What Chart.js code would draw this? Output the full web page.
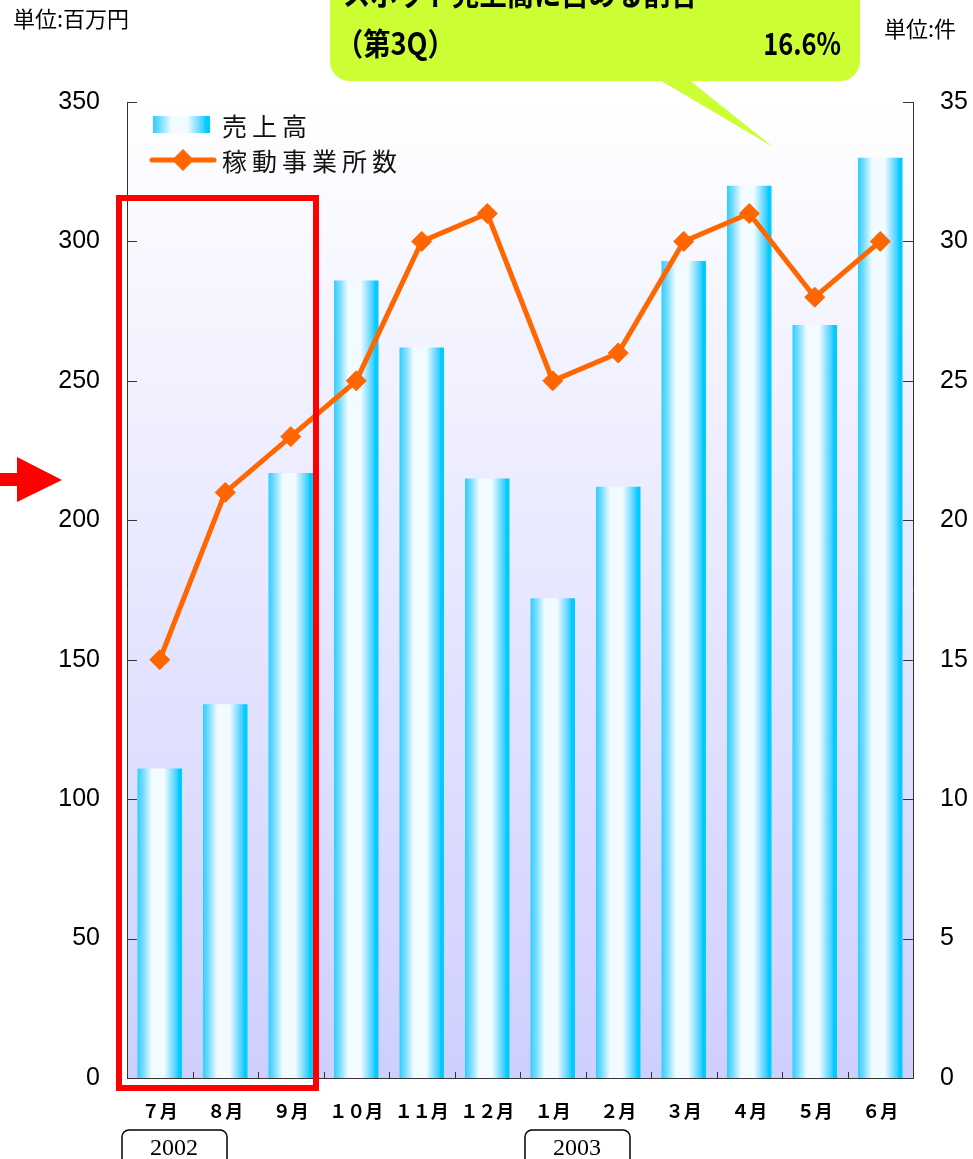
<!DOCTYPE html>
<html>
<head>
<meta charset="utf-8">
<script src="https://cdn.jsdelivr.net/npm/chart.js@4"></script>
<style>
  html, body { margin: 0; padding: 0; background: #fff; }
</style>
</head>
<body>
<canvas id="chart" width="973" height="1159"></canvas>
<script>
// Data
const months = ['７月', '８月', '９月', '１０月', '１１月', '１２月', '１月', '２月', '３月', '４月', '５月', '６月'];
const sales = [111, 134, 217, 286, 262, 215, 172, 212, 293, 320, 270, 330];   // 百万円
const offices = [15, 21, 23, 25, 30, 31, 25, 26, 30, 31, 28, 30];              // 件
const salesLabel = '売上高';
const officesLabel = '稼動事業所数';

const JP = '"Noto Sans CJK JP", sans-serif';
const NUM = '"Liberation Sans", Arial, sans-serif';
const ORANGE = '#ff6600';
const BAR_PCT = 0.68;

// horizontal cyan-white-cyan gradient used by bars and the legend swatch
const hGrad = (ctx, x0, x1) => {
  const g = ctx.createLinearGradient(x0, 0, x1, 0);
  g.addColorStop(0, '#33ccff');
  g.addColorStop(0.12, '#70dcff');
  g.addColorStop(0.32, '#f2fbff');
  g.addColorStop(0.6, '#f2fbff');
  g.addColorStop(0.9, '#33ccff');
  g.addColorStop(0.92, '#00ccff');
  g.addColorStop(1, '#00ccff');
  return g;
};

const barFill = (c) => {
  const xs = c.chart.scales.x;
  if (!xs || c.dataIndex === undefined) return '#33ccff';
  const cx = xs.getPixelForValue(c.dataIndex);
  const half = xs.width / months.length * BAR_PCT / 2;
  if (!Number.isFinite(cx) || !Number.isFinite(half) || half <= 0) return '#33ccff';
  return hGrad(c.chart.ctx, cx - half, cx + half);
};

// plot background, inward ticks, legend and the annotations
const decor = {
  id: 'decor',
  beforeDraw(chart) {
    const { ctx, chartArea: a } = chart;
    const g = ctx.createLinearGradient(0, a.top, 0, a.bottom);
    g.addColorStop(0, '#ffffff');
    g.addColorStop(1, '#cfcfff');
    ctx.save();
    ctx.fillStyle = g;
    ctx.fillRect(a.left, a.top, a.right - a.left, a.bottom - a.top);
    ctx.restore();
  },
  afterDraw(chart) {
    const { ctx, chartArea: a, scales } = chart;
    ctx.save();

    // inward ticks
    ctx.strokeStyle = '#333';
    ctx.lineWidth = 1;
    ctx.beginPath();
    scales.y.ticks.forEach(t => {
      const y = Math.round(scales.y.getPixelForValue(t.value)) + 0.5;
      ctx.moveTo(a.left, y); ctx.lineTo(a.left + 10, y);
    });
    scales.y1.ticks.forEach(t => {
      const y = Math.round(scales.y1.getPixelForValue(t.value)) + 0.5;
      ctx.moveTo(a.right, y); ctx.lineTo(a.right - 10, y);
    });
    const cw = (a.right - a.left) / months.length;
    for (let i = 1; i < months.length; i++) {
      const x = Math.round(a.left + i * cw) + 0.5;
      ctx.moveTo(x, a.bottom); ctx.lineTo(x, a.bottom - 6);
    }
    ctx.stroke();

    // legend
    ctx.fillStyle = hGrad(ctx, 153, 210);
    ctx.fillRect(153, 116, 57, 17);
    ctx.strokeStyle = ORANGE;
    ctx.lineWidth = 5;
    ctx.lineCap = 'round';
    ctx.beginPath(); ctx.moveTo(152, 160); ctx.lineTo(214, 160); ctx.stroke();
    ctx.fillStyle = ORANGE;
    ctx.beginPath();
    ctx.moveTo(172, 160); ctx.lineTo(183, 149); ctx.lineTo(194, 160); ctx.lineTo(183, 171);
    ctx.closePath(); ctx.fill();
    ctx.fillStyle = '#111';
    ctx.font = '25px ' + JP;
    ctx.textBaseline = 'middle';
    ctx.letterSpacing = '5px';
    ctx.fillText(chart.data.datasets[0].label, 222, 126);
    ctx.fillText(chart.data.datasets[1].label, 222, 161);
    ctx.letterSpacing = '0px';

    // unit labels
    ctx.font = '22px ' + JP;
    ctx.fillStyle = '#000';
    ctx.fillText('単位:百万円', 13, 19);
    ctx.fillText('単位:件', 884, 29);

    // red box around Q1
    ctx.strokeStyle = '#ff0000';
    ctx.lineWidth = 6;
    ctx.lineCap = 'butt';
    ctx.strokeRect(119, 198, 197, 890);

    // red arrow
    ctx.fillStyle = '#ff0000';
    ctx.beginPath();
    ctx.moveTo(0, 473); ctx.lineTo(17, 473); ctx.lineTo(17, 457); ctx.lineTo(62, 480);
    ctx.lineTo(17, 502); ctx.lineTo(17, 486); ctx.lineTo(0, 486);
    ctx.closePath(); ctx.fill();

    // callout
    ctx.fillStyle = '#ccff33';
    ctx.beginPath();
    ctx.roundRect(330, -40, 530, 121, 20);
    ctx.fill();
    ctx.beginPath();
    ctx.moveTo(658, 79); ctx.lineTo(688, 79); ctx.lineTo(773, 147);
    ctx.closePath(); ctx.fill();
    ctx.fillStyle = '#000';
    ctx.font = 'bold 31px ' + JP;
    ctx.save();
    ctx.translate(343, 0);
    ctx.scale(0.88, 1);
    ctx.fillText('スポット売上高に占める割合', 0, -7);
    ctx.fillText('（第3Q）', -8, 43);
    ctx.restore();
    ctx.save();
    ctx.translate(841, 0);
    ctx.scale(0.82, 1);
    ctx.textAlign = 'right';
    ctx.fillText('16.6%', 0, 43);
    ctx.restore();

    // year boxes
    ctx.strokeStyle = '#000';
    ctx.lineWidth = 1.5;
    ctx.fillStyle = '#000';
    ctx.font = '24px "Liberation Serif", serif';
    ctx.textAlign = 'center';
    [[122, '2002'], [525, '2003']].forEach(([x, txt]) => {
      ctx.beginPath();
      ctx.roundRect(x, 1130, 105, 50, 7);
      ctx.stroke();
      ctx.fillText(txt, x + 52, 1149);
    });

    ctx.restore();
  }
};

new Chart(document.getElementById('chart'), {
  type: 'bar',
  data: {
    labels: months,
    datasets: [{
      type: 'bar',
      label: salesLabel,
      data: sales,
      yAxisID: 'y',
      backgroundColor: barFill,
      borderWidth: 0,
      barPercentage: BAR_PCT,
      categoryPercentage: 1,
      order: 1
    }, {
      type: 'line',
      label: officesLabel,
      data: offices,
      yAxisID: 'y1',
      borderColor: ORANGE,
      borderWidth: 5,
      backgroundColor: ORANGE,
      pointStyle: 'rectRot',
      pointRadius: 10,
      pointBorderWidth: 1,
      pointBorderColor: ORANGE,
      pointBackgroundColor: ORANGE,
      tension: 0,
      order: 0
    }]
  },
  options: {
    responsive: false,
    animation: false,
    layout: { padding: { top: 102, left: 0, right: 0, bottom: 0 } },
    plugins: {
      legend: { display: false },
      tooltip: { enabled: false }
    },
    scales: {
      x: {
        offset: true,
        grid: { display: false, drawTicks: false },
        border: { display: true, color: '#333', width: 1 },
        ticks: { color: '#000', padding: 22, maxRotation: 0, font: { family: JP, size: 18, weight: 'bold' } },
        afterFit: s => { s.height = 81; }
      },
      y: {
        position: 'left',
        min: 0, max: 350,
        grid: { display: false, drawTicks: false },
        border: { display: true, color: '#333', width: 1 },
        ticks: { stepSize: 50, color: '#000', padding: 27, font: { family: NUM, size: 25 } },
        afterFit: s => { s.width = 127; }
      },
      y1: {
        position: 'right',
        min: 0, max: 35,
        grid: { display: false, drawTicks: false },
        border: { display: true, color: '#333', width: 1 },
        ticks: { stepSize: 5, color: '#000', padding: 27, font: { family: NUM, size: 25 } },
        afterFit: s => { s.width = 60; }
      }
    }
  },
  plugins: [decor]
});
</script>
</body>
</html>
